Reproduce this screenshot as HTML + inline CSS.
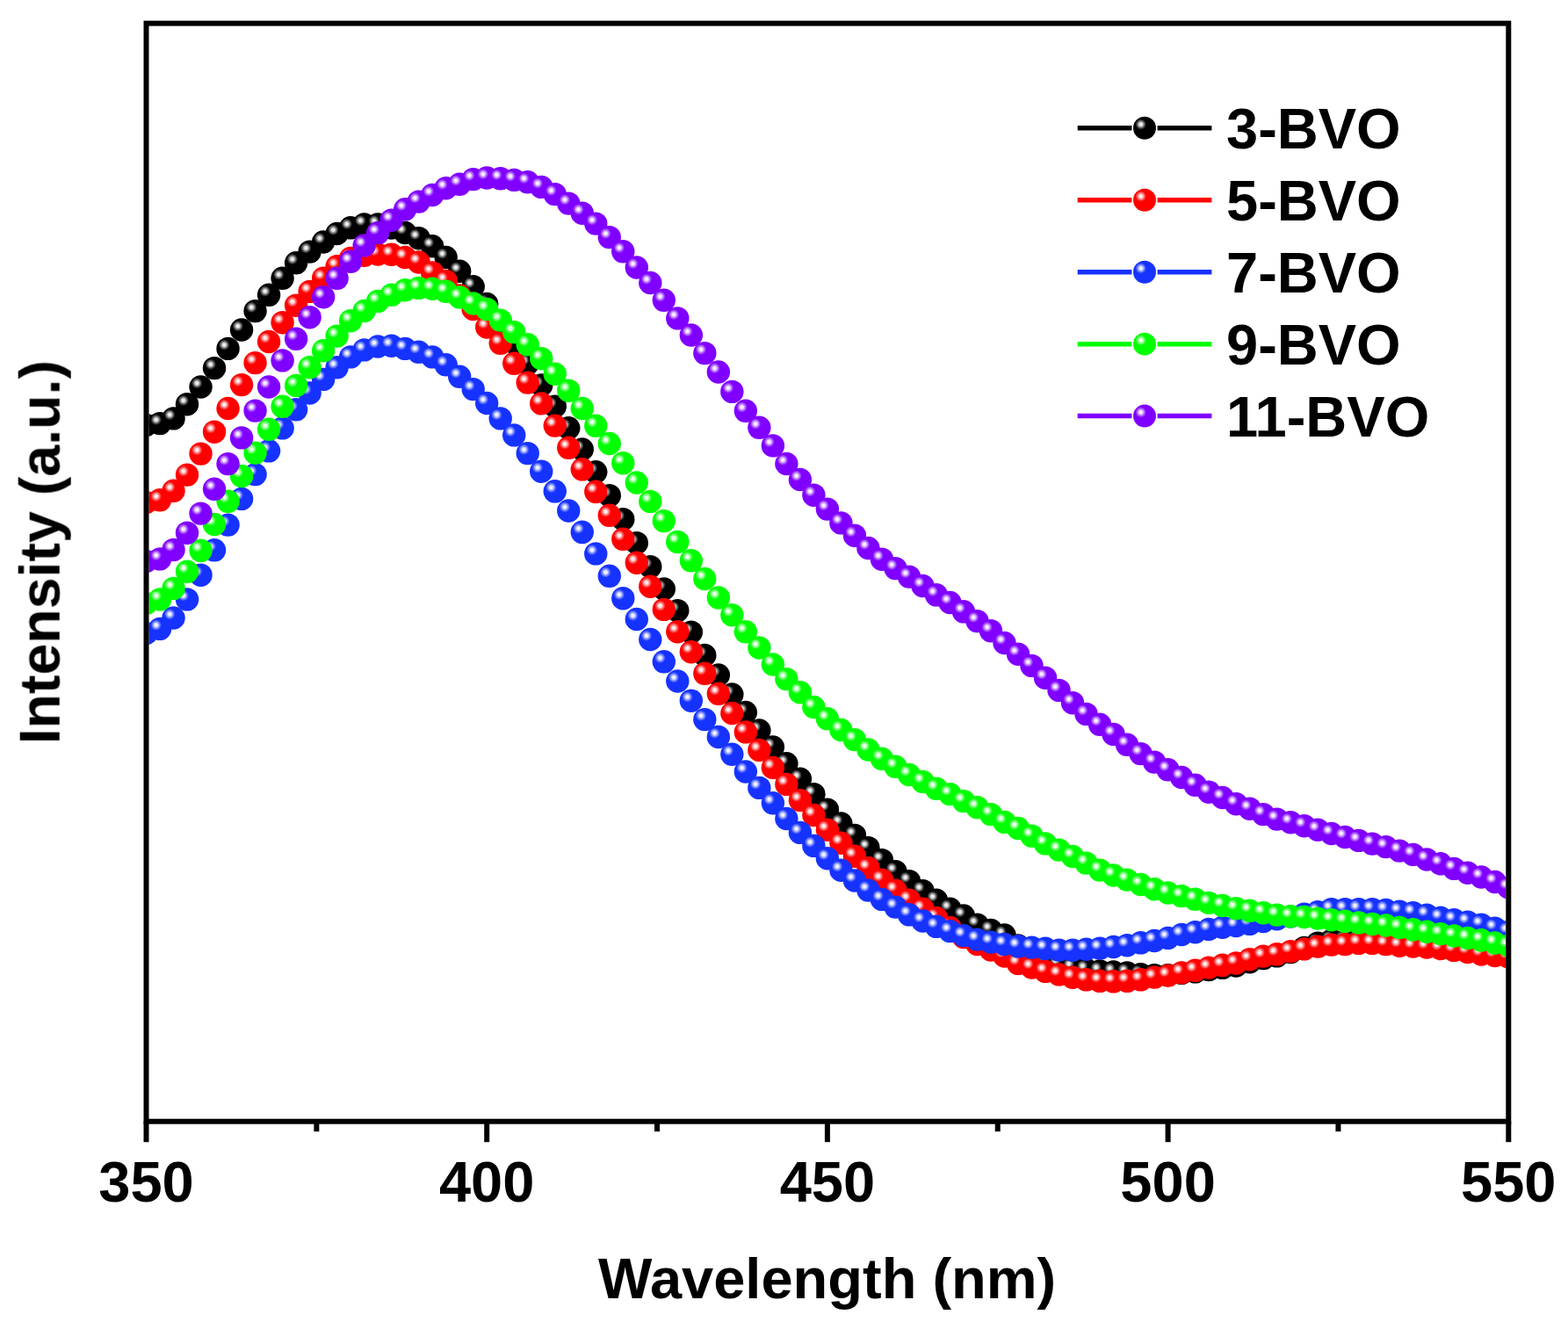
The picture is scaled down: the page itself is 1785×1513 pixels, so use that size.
<!DOCTYPE html>
<html><head><meta charset="utf-8"><title>PL spectra</title>
<style>html,body{margin:0;padding:0;background:#fff;overflow:hidden;width:1785px;height:1513px;}svg{display:block;}</style>
</head><body>
<svg width="1785" height="1513" viewBox="0 0 1785 1513">
<defs><radialGradient id="g_black" cx="0.337" cy="0.337" r="0.235" fx="0.337" fy="0.337">
<stop offset="0" stop-color="#ededed"/><stop offset="0.25" stop-color="#ededed"/><stop offset="0.6" stop-color="#767676"/><stop offset="1" stop-color="#000000"/></radialGradient><radialGradient id="g_red" cx="0.337" cy="0.337" r="0.235" fx="0.337" fy="0.337">
<stop offset="0" stop-color="#ffeded"/><stop offset="0.25" stop-color="#ffeded"/><stop offset="0.6" stop-color="#ff7676"/><stop offset="1" stop-color="#ff0000"/></radialGradient><radialGradient id="g_blue" cx="0.337" cy="0.337" r="0.235" fx="0.337" fy="0.337">
<stop offset="0" stop-color="#eff1ff"/><stop offset="0.25" stop-color="#eff1ff"/><stop offset="0.6" stop-color="#8292ff"/><stop offset="1" stop-color="#1432ff"/></radialGradient><radialGradient id="g_green" cx="0.337" cy="0.337" r="0.235" fx="0.337" fy="0.337">
<stop offset="0" stop-color="#edffed"/><stop offset="0.25" stop-color="#edffed"/><stop offset="0.6" stop-color="#76ff76"/><stop offset="1" stop-color="#00ff00"/></radialGradient><radialGradient id="g_purple" cx="0.337" cy="0.337" r="0.235" fx="0.337" fy="0.337">
<stop offset="0" stop-color="#f6edff"/><stop offset="0.25" stop-color="#f6edff"/><stop offset="0.6" stop-color="#bb76ff"/><stop offset="1" stop-color="#8000ff"/></radialGradient>
<filter id="soft" filterUnits="userSpaceOnUse" x="0" y="0" width="1785" height="1513"><feGaussianBlur stdDeviation="0.55"/></filter>
<clipPath id="clip"><rect x="169.5" y="29.6" width="1544.8" height="1244.1000000000001"/></clipPath></defs>
<rect width="1785" height="1513" fill="#fff"/>
<g filter="url(#soft)">
<g clip-path="url(#clip)">
<circle cx="166.50" cy="484.00" r="13.2" fill="url(#g_black)"/>
<circle cx="182.01" cy="482.10" r="13.2" fill="url(#g_black)"/>
<circle cx="197.52" cy="476.40" r="13.2" fill="url(#g_black)"/>
<circle cx="213.02" cy="460.20" r="13.2" fill="url(#g_black)"/>
<circle cx="228.53" cy="440.50" r="13.2" fill="url(#g_black)"/>
<circle cx="244.04" cy="419.10" r="13.2" fill="url(#g_black)"/>
<circle cx="259.55" cy="396.90" r="13.2" fill="url(#g_black)"/>
<circle cx="275.06" cy="375.50" r="13.2" fill="url(#g_black)"/>
<circle cx="290.56" cy="354.10" r="13.2" fill="url(#g_black)"/>
<circle cx="306.07" cy="335.80" r="13.2" fill="url(#g_black)"/>
<circle cx="321.58" cy="316.80" r="13.2" fill="url(#g_black)"/>
<circle cx="337.09" cy="299.30" r="13.2" fill="url(#g_black)"/>
<circle cx="352.60" cy="286.60" r="13.2" fill="url(#g_black)"/>
<circle cx="368.10" cy="275.50" r="13.2" fill="url(#g_black)"/>
<circle cx="383.61" cy="266.00" r="13.2" fill="url(#g_black)"/>
<circle cx="399.12" cy="259.30" r="13.2" fill="url(#g_black)"/>
<circle cx="414.63" cy="255.40" r="13.2" fill="url(#g_black)"/>
<circle cx="430.14" cy="255.50" r="13.2" fill="url(#g_black)"/>
<circle cx="445.64" cy="259.50" r="13.2" fill="url(#g_black)"/>
<circle cx="461.15" cy="265.00" r="13.2" fill="url(#g_black)"/>
<circle cx="476.66" cy="271.20" r="13.2" fill="url(#g_black)"/>
<circle cx="492.17" cy="280.30" r="13.2" fill="url(#g_black)"/>
<circle cx="507.68" cy="293.00" r="13.2" fill="url(#g_black)"/>
<circle cx="523.18" cy="308.80" r="13.2" fill="url(#g_black)"/>
<circle cx="538.69" cy="326.30" r="13.2" fill="url(#g_black)"/>
<circle cx="554.20" cy="346.00" r="13.2" fill="url(#g_black)"/>
<circle cx="569.71" cy="367.50" r="13.2" fill="url(#g_black)"/>
<circle cx="585.22" cy="390.00" r="13.2" fill="url(#g_black)"/>
<circle cx="600.72" cy="414.00" r="13.2" fill="url(#g_black)"/>
<circle cx="616.23" cy="438.50" r="13.2" fill="url(#g_black)"/>
<circle cx="631.74" cy="462.70" r="13.2" fill="url(#g_black)"/>
<circle cx="647.25" cy="487.30" r="13.2" fill="url(#g_black)"/>
<circle cx="662.76" cy="511.50" r="13.2" fill="url(#g_black)"/>
<circle cx="678.26" cy="537.30" r="13.2" fill="url(#g_black)"/>
<circle cx="693.77" cy="564.20" r="13.2" fill="url(#g_black)"/>
<circle cx="709.28" cy="591.20" r="13.2" fill="url(#g_black)"/>
<circle cx="724.79" cy="618.20" r="13.2" fill="url(#g_black)"/>
<circle cx="740.30" cy="645.10" r="13.2" fill="url(#g_black)"/>
<circle cx="755.80" cy="670.50" r="13.2" fill="url(#g_black)"/>
<circle cx="771.31" cy="695.10" r="13.2" fill="url(#g_black)"/>
<circle cx="786.82" cy="719.70" r="13.2" fill="url(#g_black)"/>
<circle cx="802.33" cy="746.00" r="13.2" fill="url(#g_black)"/>
<circle cx="817.84" cy="768.50" r="13.2" fill="url(#g_black)"/>
<circle cx="833.34" cy="790.50" r="13.2" fill="url(#g_black)"/>
<circle cx="848.85" cy="811.00" r="13.2" fill="url(#g_black)"/>
<circle cx="864.36" cy="831.50" r="13.2" fill="url(#g_black)"/>
<circle cx="879.87" cy="850.50" r="13.2" fill="url(#g_black)"/>
<circle cx="895.38" cy="869.30" r="13.2" fill="url(#g_black)"/>
<circle cx="910.88" cy="886.80" r="13.2" fill="url(#g_black)"/>
<circle cx="926.39" cy="904.20" r="13.2" fill="url(#g_black)"/>
<circle cx="941.90" cy="921.70" r="13.2" fill="url(#g_black)"/>
<circle cx="957.41" cy="937.50" r="13.2" fill="url(#g_black)"/>
<circle cx="972.92" cy="950.90" r="13.2" fill="url(#g_black)"/>
<circle cx="988.42" cy="965.20" r="13.2" fill="url(#g_black)"/>
<circle cx="1003.93" cy="979.20" r="13.2" fill="url(#g_black)"/>
<circle cx="1019.44" cy="992.20" r="13.2" fill="url(#g_black)"/>
<circle cx="1034.95" cy="1003.20" r="13.2" fill="url(#g_black)"/>
<circle cx="1050.46" cy="1014.20" r="13.2" fill="url(#g_black)"/>
<circle cx="1065.96" cy="1024.80" r="13.2" fill="url(#g_black)"/>
<circle cx="1081.47" cy="1034.80" r="13.2" fill="url(#g_black)"/>
<circle cx="1096.98" cy="1042.50" r="13.2" fill="url(#g_black)"/>
<circle cx="1112.49" cy="1052.60" r="13.2" fill="url(#g_black)"/>
<circle cx="1128.00" cy="1058.90" r="13.2" fill="url(#g_black)"/>
<circle cx="1143.50" cy="1064.50" r="13.2" fill="url(#g_black)"/>
<circle cx="1159.01" cy="1076.57" r="13.2" fill="url(#g_black)"/>
<circle cx="1174.52" cy="1083.77" r="13.2" fill="url(#g_black)"/>
<circle cx="1190.03" cy="1093.00" r="13.2" fill="url(#g_black)"/>
<circle cx="1205.54" cy="1098.00" r="13.2" fill="url(#g_black)"/>
<circle cx="1221.04" cy="1101.50" r="13.2" fill="url(#g_black)"/>
<circle cx="1236.55" cy="1103.80" r="13.2" fill="url(#g_black)"/>
<circle cx="1252.06" cy="1105.50" r="13.2" fill="url(#g_black)"/>
<circle cx="1267.57" cy="1106.50" r="13.2" fill="url(#g_black)"/>
<circle cx="1283.08" cy="1107.50" r="13.2" fill="url(#g_black)"/>
<circle cx="1298.58" cy="1109.30" r="13.2" fill="url(#g_black)"/>
<circle cx="1314.09" cy="1110.10" r="13.2" fill="url(#g_black)"/>
<circle cx="1329.60" cy="1110.10" r="13.2" fill="url(#g_black)"/>
<circle cx="1345.11" cy="1107.90" r="13.2" fill="url(#g_black)"/>
<circle cx="1360.62" cy="1106.30" r="13.2" fill="url(#g_black)"/>
<circle cx="1376.12" cy="1104.10" r="13.2" fill="url(#g_black)"/>
<circle cx="1391.63" cy="1101.80" r="13.2" fill="url(#g_black)"/>
<circle cx="1407.14" cy="1099.50" r="13.2" fill="url(#g_black)"/>
<circle cx="1422.65" cy="1095.20" r="13.2" fill="url(#g_black)"/>
<circle cx="1438.16" cy="1091.10" r="13.2" fill="url(#g_black)"/>
<circle cx="1453.66" cy="1088.30" r="13.2" fill="url(#g_black)"/>
<circle cx="1469.17" cy="1084.10" r="13.2" fill="url(#g_black)"/>
<circle cx="1484.68" cy="1078.90" r="13.2" fill="url(#g_black)"/>
<circle cx="1500.19" cy="1073.60" r="13.2" fill="url(#g_black)"/>
<circle cx="1515.70" cy="1070.60" r="13.2" fill="url(#g_black)"/>
<circle cx="1531.20" cy="1070.60" r="13.2" fill="url(#g_black)"/>
<circle cx="1546.71" cy="1069.80" r="13.2" fill="url(#g_black)"/>
<circle cx="1562.22" cy="1070.80" r="13.2" fill="url(#g_black)"/>
<circle cx="1577.73" cy="1073.10" r="13.2" fill="url(#g_black)"/>
<circle cx="1593.24" cy="1075.20" r="13.2" fill="url(#g_black)"/>
<circle cx="1608.74" cy="1076.50" r="13.2" fill="url(#g_black)"/>
<circle cx="1624.25" cy="1077.50" r="13.2" fill="url(#g_black)"/>
<circle cx="1639.76" cy="1079.00" r="13.2" fill="url(#g_black)"/>
<circle cx="1655.27" cy="1080.80" r="13.2" fill="url(#g_black)"/>
<circle cx="1670.78" cy="1083.00" r="13.2" fill="url(#g_black)"/>
<circle cx="1686.28" cy="1085.50" r="13.2" fill="url(#g_black)"/>
<circle cx="1701.79" cy="1087.00" r="13.2" fill="url(#g_black)"/>
<circle cx="1717.30" cy="1088.70" r="13.2" fill="url(#g_black)"/>
<circle cx="166.50" cy="572.00" r="13.2" fill="url(#g_red)"/>
<circle cx="182.01" cy="569.30" r="13.2" fill="url(#g_red)"/>
<circle cx="197.52" cy="558.80" r="13.2" fill="url(#g_red)"/>
<circle cx="213.02" cy="540.60" r="13.2" fill="url(#g_red)"/>
<circle cx="228.53" cy="516.60" r="13.2" fill="url(#g_red)"/>
<circle cx="244.04" cy="491.70" r="13.2" fill="url(#g_red)"/>
<circle cx="259.55" cy="465.00" r="13.2" fill="url(#g_red)"/>
<circle cx="275.06" cy="438.10" r="13.2" fill="url(#g_red)"/>
<circle cx="290.56" cy="413.10" r="13.2" fill="url(#g_red)"/>
<circle cx="306.07" cy="389.00" r="13.2" fill="url(#g_red)"/>
<circle cx="321.58" cy="367.20" r="13.2" fill="url(#g_red)"/>
<circle cx="337.09" cy="347.70" r="13.2" fill="url(#g_red)"/>
<circle cx="352.60" cy="331.90" r="13.2" fill="url(#g_red)"/>
<circle cx="368.10" cy="316.80" r="13.2" fill="url(#g_red)"/>
<circle cx="383.61" cy="303.30" r="13.2" fill="url(#g_red)"/>
<circle cx="399.12" cy="294.00" r="13.2" fill="url(#g_red)"/>
<circle cx="414.63" cy="290.80" r="13.2" fill="url(#g_red)"/>
<circle cx="430.14" cy="289.50" r="13.2" fill="url(#g_red)"/>
<circle cx="445.64" cy="289.80" r="13.2" fill="url(#g_red)"/>
<circle cx="461.15" cy="293.00" r="13.2" fill="url(#g_red)"/>
<circle cx="476.66" cy="298.50" r="13.2" fill="url(#g_red)"/>
<circle cx="492.17" cy="310.40" r="13.2" fill="url(#g_red)"/>
<circle cx="507.68" cy="319.90" r="13.2" fill="url(#g_red)"/>
<circle cx="523.18" cy="336.50" r="13.2" fill="url(#g_red)"/>
<circle cx="538.69" cy="352.00" r="13.2" fill="url(#g_red)"/>
<circle cx="554.20" cy="372.50" r="13.2" fill="url(#g_red)"/>
<circle cx="569.71" cy="390.80" r="13.2" fill="url(#g_red)"/>
<circle cx="585.22" cy="413.80" r="13.2" fill="url(#g_red)"/>
<circle cx="600.72" cy="435.60" r="13.2" fill="url(#g_red)"/>
<circle cx="616.23" cy="459.40" r="13.2" fill="url(#g_red)"/>
<circle cx="631.74" cy="484.60" r="13.2" fill="url(#g_red)"/>
<circle cx="647.25" cy="509.80" r="13.2" fill="url(#g_red)"/>
<circle cx="662.76" cy="534.30" r="13.2" fill="url(#g_red)"/>
<circle cx="678.26" cy="559.80" r="13.2" fill="url(#g_red)"/>
<circle cx="693.77" cy="586.80" r="13.2" fill="url(#g_red)"/>
<circle cx="709.28" cy="613.80" r="13.2" fill="url(#g_red)"/>
<circle cx="724.79" cy="640.70" r="13.2" fill="url(#g_red)"/>
<circle cx="740.30" cy="667.70" r="13.2" fill="url(#g_red)"/>
<circle cx="755.80" cy="693.90" r="13.2" fill="url(#g_red)"/>
<circle cx="771.31" cy="719.20" r="13.2" fill="url(#g_red)"/>
<circle cx="786.82" cy="742.20" r="13.2" fill="url(#g_red)"/>
<circle cx="802.33" cy="766.80" r="13.2" fill="url(#g_red)"/>
<circle cx="817.84" cy="789.80" r="13.2" fill="url(#g_red)"/>
<circle cx="833.34" cy="812.00" r="13.2" fill="url(#g_red)"/>
<circle cx="848.85" cy="833.40" r="13.2" fill="url(#g_red)"/>
<circle cx="864.36" cy="854.00" r="13.2" fill="url(#g_red)"/>
<circle cx="879.87" cy="873.90" r="13.2" fill="url(#g_red)"/>
<circle cx="895.38" cy="892.90" r="13.2" fill="url(#g_red)"/>
<circle cx="910.88" cy="911.10" r="13.2" fill="url(#g_red)"/>
<circle cx="926.39" cy="928.00" r="13.2" fill="url(#g_red)"/>
<circle cx="941.90" cy="944.70" r="13.2" fill="url(#g_red)"/>
<circle cx="957.41" cy="959.80" r="13.2" fill="url(#g_red)"/>
<circle cx="972.92" cy="974.70" r="13.2" fill="url(#g_red)"/>
<circle cx="988.42" cy="988.20" r="13.2" fill="url(#g_red)"/>
<circle cx="1003.93" cy="1001.70" r="13.2" fill="url(#g_red)"/>
<circle cx="1019.44" cy="1013.60" r="13.2" fill="url(#g_red)"/>
<circle cx="1034.95" cy="1024.60" r="13.2" fill="url(#g_red)"/>
<circle cx="1050.46" cy="1034.80" r="13.2" fill="url(#g_red)"/>
<circle cx="1065.96" cy="1045.00" r="13.2" fill="url(#g_red)"/>
<circle cx="1081.47" cy="1056.00" r="13.2" fill="url(#g_red)"/>
<circle cx="1096.98" cy="1067.00" r="13.2" fill="url(#g_red)"/>
<circle cx="1112.49" cy="1075.00" r="13.2" fill="url(#g_red)"/>
<circle cx="1128.00" cy="1081.50" r="13.2" fill="url(#g_red)"/>
<circle cx="1143.50" cy="1088.50" r="13.2" fill="url(#g_red)"/>
<circle cx="1159.01" cy="1096.90" r="13.2" fill="url(#g_red)"/>
<circle cx="1174.52" cy="1101.50" r="13.2" fill="url(#g_red)"/>
<circle cx="1190.03" cy="1105.90" r="13.2" fill="url(#g_red)"/>
<circle cx="1205.54" cy="1109.40" r="13.2" fill="url(#g_red)"/>
<circle cx="1221.04" cy="1112.70" r="13.2" fill="url(#g_red)"/>
<circle cx="1236.55" cy="1115.30" r="13.2" fill="url(#g_red)"/>
<circle cx="1252.06" cy="1116.80" r="13.2" fill="url(#g_red)"/>
<circle cx="1267.57" cy="1117.30" r="13.2" fill="url(#g_red)"/>
<circle cx="1283.08" cy="1116.80" r="13.2" fill="url(#g_red)"/>
<circle cx="1298.58" cy="1115.30" r="13.2" fill="url(#g_red)"/>
<circle cx="1314.09" cy="1112.60" r="13.2" fill="url(#g_red)"/>
<circle cx="1329.60" cy="1110.60" r="13.2" fill="url(#g_red)"/>
<circle cx="1345.11" cy="1107.40" r="13.2" fill="url(#g_red)"/>
<circle cx="1360.62" cy="1104.80" r="13.2" fill="url(#g_red)"/>
<circle cx="1376.12" cy="1101.60" r="13.2" fill="url(#g_red)"/>
<circle cx="1391.63" cy="1098.80" r="13.2" fill="url(#g_red)"/>
<circle cx="1407.14" cy="1096.50" r="13.2" fill="url(#g_red)"/>
<circle cx="1422.65" cy="1092.20" r="13.2" fill="url(#g_red)"/>
<circle cx="1438.16" cy="1088.60" r="13.2" fill="url(#g_red)"/>
<circle cx="1453.66" cy="1086.30" r="13.2" fill="url(#g_red)"/>
<circle cx="1469.17" cy="1083.10" r="13.2" fill="url(#g_red)"/>
<circle cx="1484.68" cy="1080.40" r="13.2" fill="url(#g_red)"/>
<circle cx="1500.19" cy="1077.60" r="13.2" fill="url(#g_red)"/>
<circle cx="1515.70" cy="1075.60" r="13.2" fill="url(#g_red)"/>
<circle cx="1531.20" cy="1075.10" r="13.2" fill="url(#g_red)"/>
<circle cx="1546.71" cy="1073.80" r="13.2" fill="url(#g_red)"/>
<circle cx="1562.22" cy="1073.80" r="13.2" fill="url(#g_red)"/>
<circle cx="1577.73" cy="1075.10" r="13.2" fill="url(#g_red)"/>
<circle cx="1593.24" cy="1076.70" r="13.2" fill="url(#g_red)"/>
<circle cx="1608.74" cy="1077.50" r="13.2" fill="url(#g_red)"/>
<circle cx="1624.25" cy="1078.50" r="13.2" fill="url(#g_red)"/>
<circle cx="1639.76" cy="1080.00" r="13.2" fill="url(#g_red)"/>
<circle cx="1655.27" cy="1081.80" r="13.2" fill="url(#g_red)"/>
<circle cx="1670.78" cy="1084.00" r="13.2" fill="url(#g_red)"/>
<circle cx="1686.28" cy="1086.50" r="13.2" fill="url(#g_red)"/>
<circle cx="1701.79" cy="1088.00" r="13.2" fill="url(#g_red)"/>
<circle cx="1717.30" cy="1089.70" r="13.2" fill="url(#g_red)"/>
<circle cx="166.50" cy="721.00" r="13.2" fill="url(#g_blue)"/>
<circle cx="182.01" cy="715.90" r="13.2" fill="url(#g_blue)"/>
<circle cx="197.52" cy="703.50" r="13.2" fill="url(#g_blue)"/>
<circle cx="213.02" cy="682.40" r="13.2" fill="url(#g_blue)"/>
<circle cx="228.53" cy="654.70" r="13.2" fill="url(#g_blue)"/>
<circle cx="244.04" cy="626.30" r="13.2" fill="url(#g_blue)"/>
<circle cx="259.55" cy="597.60" r="13.2" fill="url(#g_blue)"/>
<circle cx="275.06" cy="567.90" r="13.2" fill="url(#g_blue)"/>
<circle cx="290.56" cy="540.10" r="13.2" fill="url(#g_blue)"/>
<circle cx="306.07" cy="513.30" r="13.2" fill="url(#g_blue)"/>
<circle cx="321.58" cy="487.40" r="13.2" fill="url(#g_blue)"/>
<circle cx="337.09" cy="466.30" r="13.2" fill="url(#g_blue)"/>
<circle cx="352.60" cy="447.50" r="13.2" fill="url(#g_blue)"/>
<circle cx="368.10" cy="431.90" r="13.2" fill="url(#g_blue)"/>
<circle cx="383.61" cy="418.30" r="13.2" fill="url(#g_blue)"/>
<circle cx="399.12" cy="406.40" r="13.2" fill="url(#g_blue)"/>
<circle cx="414.63" cy="398.40" r="13.2" fill="url(#g_blue)"/>
<circle cx="430.14" cy="394.50" r="13.2" fill="url(#g_blue)"/>
<circle cx="445.64" cy="393.70" r="13.2" fill="url(#g_blue)"/>
<circle cx="461.15" cy="396.90" r="13.2" fill="url(#g_blue)"/>
<circle cx="476.66" cy="400.80" r="13.2" fill="url(#g_blue)"/>
<circle cx="492.17" cy="406.40" r="13.2" fill="url(#g_blue)"/>
<circle cx="507.68" cy="415.30" r="13.2" fill="url(#g_blue)"/>
<circle cx="523.18" cy="428.80" r="13.2" fill="url(#g_blue)"/>
<circle cx="538.69" cy="443.10" r="13.2" fill="url(#g_blue)"/>
<circle cx="554.20" cy="459.00" r="13.2" fill="url(#g_blue)"/>
<circle cx="569.71" cy="476.40" r="13.2" fill="url(#g_blue)"/>
<circle cx="585.22" cy="495.40" r="13.2" fill="url(#g_blue)"/>
<circle cx="600.72" cy="516.10" r="13.2" fill="url(#g_blue)"/>
<circle cx="616.23" cy="536.70" r="13.2" fill="url(#g_blue)"/>
<circle cx="631.74" cy="559.30" r="13.2" fill="url(#g_blue)"/>
<circle cx="647.25" cy="581.50" r="13.2" fill="url(#g_blue)"/>
<circle cx="662.76" cy="605.80" r="13.2" fill="url(#g_blue)"/>
<circle cx="678.26" cy="630.40" r="13.2" fill="url(#g_blue)"/>
<circle cx="693.77" cy="655.80" r="13.2" fill="url(#g_blue)"/>
<circle cx="709.28" cy="681.20" r="13.2" fill="url(#g_blue)"/>
<circle cx="724.79" cy="705.00" r="13.2" fill="url(#g_blue)"/>
<circle cx="740.30" cy="728.00" r="13.2" fill="url(#g_blue)"/>
<circle cx="755.80" cy="753.30" r="13.2" fill="url(#g_blue)"/>
<circle cx="771.31" cy="775.50" r="13.2" fill="url(#g_blue)"/>
<circle cx="786.82" cy="797.70" r="13.2" fill="url(#g_blue)"/>
<circle cx="802.33" cy="819.10" r="13.2" fill="url(#g_blue)"/>
<circle cx="817.84" cy="839.00" r="13.2" fill="url(#g_blue)"/>
<circle cx="833.34" cy="858.80" r="13.2" fill="url(#g_blue)"/>
<circle cx="848.85" cy="878.50" r="13.2" fill="url(#g_blue)"/>
<circle cx="864.36" cy="896.90" r="13.2" fill="url(#g_blue)"/>
<circle cx="879.87" cy="914.30" r="13.2" fill="url(#g_blue)"/>
<circle cx="895.38" cy="932.00" r="13.2" fill="url(#g_blue)"/>
<circle cx="910.88" cy="947.90" r="13.2" fill="url(#g_blue)"/>
<circle cx="926.39" cy="962.90" r="13.2" fill="url(#g_blue)"/>
<circle cx="941.90" cy="977.20" r="13.2" fill="url(#g_blue)"/>
<circle cx="957.41" cy="990.70" r="13.2" fill="url(#g_blue)"/>
<circle cx="972.92" cy="1002.50" r="13.2" fill="url(#g_blue)"/>
<circle cx="988.42" cy="1013.60" r="13.2" fill="url(#g_blue)"/>
<circle cx="1003.93" cy="1023.90" r="13.2" fill="url(#g_blue)"/>
<circle cx="1019.44" cy="1032.60" r="13.2" fill="url(#g_blue)"/>
<circle cx="1034.95" cy="1041.30" r="13.2" fill="url(#g_blue)"/>
<circle cx="1050.46" cy="1048.50" r="13.2" fill="url(#g_blue)"/>
<circle cx="1065.96" cy="1054.80" r="13.2" fill="url(#g_blue)"/>
<circle cx="1081.47" cy="1060.10" r="13.2" fill="url(#g_blue)"/>
<circle cx="1096.98" cy="1065.10" r="13.2" fill="url(#g_blue)"/>
<circle cx="1112.49" cy="1069.60" r="13.2" fill="url(#g_blue)"/>
<circle cx="1128.00" cy="1072.60" r="13.2" fill="url(#g_blue)"/>
<circle cx="1143.50" cy="1075.00" r="13.2" fill="url(#g_blue)"/>
<circle cx="1159.01" cy="1077.30" r="13.2" fill="url(#g_blue)"/>
<circle cx="1174.52" cy="1078.60" r="13.2" fill="url(#g_blue)"/>
<circle cx="1190.03" cy="1079.80" r="13.2" fill="url(#g_blue)"/>
<circle cx="1205.54" cy="1081.60" r="13.2" fill="url(#g_blue)"/>
<circle cx="1221.04" cy="1081.70" r="13.2" fill="url(#g_blue)"/>
<circle cx="1236.55" cy="1080.70" r="13.2" fill="url(#g_blue)"/>
<circle cx="1252.06" cy="1079.60" r="13.2" fill="url(#g_blue)"/>
<circle cx="1267.57" cy="1078.00" r="13.2" fill="url(#g_blue)"/>
<circle cx="1283.08" cy="1076.20" r="13.2" fill="url(#g_blue)"/>
<circle cx="1298.58" cy="1073.30" r="13.2" fill="url(#g_blue)"/>
<circle cx="1314.09" cy="1071.00" r="13.2" fill="url(#g_blue)"/>
<circle cx="1329.60" cy="1067.90" r="13.2" fill="url(#g_blue)"/>
<circle cx="1345.11" cy="1064.00" r="13.2" fill="url(#g_blue)"/>
<circle cx="1360.62" cy="1061.20" r="13.2" fill="url(#g_blue)"/>
<circle cx="1376.12" cy="1058.00" r="13.2" fill="url(#g_blue)"/>
<circle cx="1391.63" cy="1055.70" r="13.2" fill="url(#g_blue)"/>
<circle cx="1407.14" cy="1054.00" r="13.2" fill="url(#g_blue)"/>
<circle cx="1422.65" cy="1051.80" r="13.2" fill="url(#g_blue)"/>
<circle cx="1438.16" cy="1049.00" r="13.2" fill="url(#g_blue)"/>
<circle cx="1453.66" cy="1046.20" r="13.2" fill="url(#g_blue)"/>
<circle cx="1469.17" cy="1043.40" r="13.2" fill="url(#g_blue)"/>
<circle cx="1484.68" cy="1040.80" r="13.2" fill="url(#g_blue)"/>
<circle cx="1500.19" cy="1038.30" r="13.2" fill="url(#g_blue)"/>
<circle cx="1515.70" cy="1035.20" r="13.2" fill="url(#g_blue)"/>
<circle cx="1531.20" cy="1035.20" r="13.2" fill="url(#g_blue)"/>
<circle cx="1546.71" cy="1035.20" r="13.2" fill="url(#g_blue)"/>
<circle cx="1562.22" cy="1035.20" r="13.2" fill="url(#g_blue)"/>
<circle cx="1577.73" cy="1036.00" r="13.2" fill="url(#g_blue)"/>
<circle cx="1593.24" cy="1037.60" r="13.2" fill="url(#g_blue)"/>
<circle cx="1608.74" cy="1039.20" r="13.2" fill="url(#g_blue)"/>
<circle cx="1624.25" cy="1041.60" r="13.2" fill="url(#g_blue)"/>
<circle cx="1639.76" cy="1044.80" r="13.2" fill="url(#g_blue)"/>
<circle cx="1655.27" cy="1047.20" r="13.2" fill="url(#g_blue)"/>
<circle cx="1670.78" cy="1049.60" r="13.2" fill="url(#g_blue)"/>
<circle cx="1686.28" cy="1052.70" r="13.2" fill="url(#g_blue)"/>
<circle cx="1701.79" cy="1056.70" r="13.2" fill="url(#g_blue)"/>
<circle cx="1717.30" cy="1060.70" r="13.2" fill="url(#g_blue)"/>
<circle cx="166.50" cy="687.00" r="13.2" fill="url(#g_green)"/>
<circle cx="182.01" cy="682.40" r="13.2" fill="url(#g_green)"/>
<circle cx="197.52" cy="669.90" r="13.2" fill="url(#g_green)"/>
<circle cx="213.02" cy="650.80" r="13.2" fill="url(#g_green)"/>
<circle cx="228.53" cy="626.80" r="13.2" fill="url(#g_green)"/>
<circle cx="244.04" cy="597.00" r="13.2" fill="url(#g_green)"/>
<circle cx="259.55" cy="570.80" r="13.2" fill="url(#g_green)"/>
<circle cx="275.06" cy="542.00" r="13.2" fill="url(#g_green)"/>
<circle cx="290.56" cy="515.60" r="13.2" fill="url(#g_green)"/>
<circle cx="306.07" cy="488.80" r="13.2" fill="url(#g_green)"/>
<circle cx="321.58" cy="462.80" r="13.2" fill="url(#g_green)"/>
<circle cx="337.09" cy="438.90" r="13.2" fill="url(#g_green)"/>
<circle cx="352.60" cy="418.20" r="13.2" fill="url(#g_green)"/>
<circle cx="368.10" cy="399.30" r="13.2" fill="url(#g_green)"/>
<circle cx="383.61" cy="382.60" r="13.2" fill="url(#g_green)"/>
<circle cx="399.12" cy="365.20" r="13.2" fill="url(#g_green)"/>
<circle cx="414.63" cy="354.00" r="13.2" fill="url(#g_green)"/>
<circle cx="430.14" cy="342.90" r="13.2" fill="url(#g_green)"/>
<circle cx="445.64" cy="335.80" r="13.2" fill="url(#g_green)"/>
<circle cx="461.15" cy="330.20" r="13.2" fill="url(#g_green)"/>
<circle cx="476.66" cy="327.90" r="13.2" fill="url(#g_green)"/>
<circle cx="492.17" cy="328.70" r="13.2" fill="url(#g_green)"/>
<circle cx="507.68" cy="331.80" r="13.2" fill="url(#g_green)"/>
<circle cx="523.18" cy="338.40" r="13.2" fill="url(#g_green)"/>
<circle cx="538.69" cy="345.50" r="13.2" fill="url(#g_green)"/>
<circle cx="554.20" cy="351.90" r="13.2" fill="url(#g_green)"/>
<circle cx="569.71" cy="364.60" r="13.2" fill="url(#g_green)"/>
<circle cx="585.22" cy="378.10" r="13.2" fill="url(#g_green)"/>
<circle cx="600.72" cy="392.30" r="13.2" fill="url(#g_green)"/>
<circle cx="616.23" cy="408.20" r="13.2" fill="url(#g_green)"/>
<circle cx="631.74" cy="425.70" r="13.2" fill="url(#g_green)"/>
<circle cx="647.25" cy="444.70" r="13.2" fill="url(#g_green)"/>
<circle cx="662.76" cy="465.00" r="13.2" fill="url(#g_green)"/>
<circle cx="678.26" cy="484.80" r="13.2" fill="url(#g_green)"/>
<circle cx="693.77" cy="505.00" r="13.2" fill="url(#g_green)"/>
<circle cx="709.28" cy="527.20" r="13.2" fill="url(#g_green)"/>
<circle cx="724.79" cy="549.50" r="13.2" fill="url(#g_green)"/>
<circle cx="740.30" cy="570.90" r="13.2" fill="url(#g_green)"/>
<circle cx="755.80" cy="593.10" r="13.2" fill="url(#g_green)"/>
<circle cx="771.31" cy="616.90" r="13.2" fill="url(#g_green)"/>
<circle cx="786.82" cy="638.30" r="13.2" fill="url(#g_green)"/>
<circle cx="802.33" cy="659.00" r="13.2" fill="url(#g_green)"/>
<circle cx="817.84" cy="680.40" r="13.2" fill="url(#g_green)"/>
<circle cx="833.34" cy="700.20" r="13.2" fill="url(#g_green)"/>
<circle cx="848.85" cy="719.30" r="13.2" fill="url(#g_green)"/>
<circle cx="864.36" cy="737.50" r="13.2" fill="url(#g_green)"/>
<circle cx="879.87" cy="756.50" r="13.2" fill="url(#g_green)"/>
<circle cx="895.38" cy="773.10" r="13.2" fill="url(#g_green)"/>
<circle cx="910.88" cy="788.20" r="13.2" fill="url(#g_green)"/>
<circle cx="926.39" cy="805.00" r="13.2" fill="url(#g_green)"/>
<circle cx="941.90" cy="818.30" r="13.2" fill="url(#g_green)"/>
<circle cx="957.41" cy="831.00" r="13.2" fill="url(#g_green)"/>
<circle cx="972.92" cy="842.10" r="13.2" fill="url(#g_green)"/>
<circle cx="988.42" cy="853.50" r="13.2" fill="url(#g_green)"/>
<circle cx="1003.93" cy="863.80" r="13.2" fill="url(#g_green)"/>
<circle cx="1019.44" cy="872.80" r="13.2" fill="url(#g_green)"/>
<circle cx="1034.95" cy="882.00" r="13.2" fill="url(#g_green)"/>
<circle cx="1050.46" cy="889.90" r="13.2" fill="url(#g_green)"/>
<circle cx="1065.96" cy="897.80" r="13.2" fill="url(#g_green)"/>
<circle cx="1081.47" cy="904.10" r="13.2" fill="url(#g_green)"/>
<circle cx="1096.98" cy="912.10" r="13.2" fill="url(#g_green)"/>
<circle cx="1112.49" cy="919.20" r="13.2" fill="url(#g_green)"/>
<circle cx="1128.00" cy="927.10" r="13.2" fill="url(#g_green)"/>
<circle cx="1143.50" cy="935.90" r="13.2" fill="url(#g_green)"/>
<circle cx="1159.01" cy="943.00" r="13.2" fill="url(#g_green)"/>
<circle cx="1174.52" cy="951.70" r="13.2" fill="url(#g_green)"/>
<circle cx="1190.03" cy="960.40" r="13.2" fill="url(#g_green)"/>
<circle cx="1205.54" cy="967.60" r="13.2" fill="url(#g_green)"/>
<circle cx="1221.04" cy="975.00" r="13.2" fill="url(#g_green)"/>
<circle cx="1236.55" cy="982.60" r="13.2" fill="url(#g_green)"/>
<circle cx="1252.06" cy="990.60" r="13.2" fill="url(#g_green)"/>
<circle cx="1267.57" cy="996.50" r="13.2" fill="url(#g_green)"/>
<circle cx="1283.08" cy="1001.60" r="13.2" fill="url(#g_green)"/>
<circle cx="1298.58" cy="1007.00" r="13.2" fill="url(#g_green)"/>
<circle cx="1314.09" cy="1012.20" r="13.2" fill="url(#g_green)"/>
<circle cx="1329.60" cy="1016.50" r="13.2" fill="url(#g_green)"/>
<circle cx="1345.11" cy="1020.10" r="13.2" fill="url(#g_green)"/>
<circle cx="1360.62" cy="1023.80" r="13.2" fill="url(#g_green)"/>
<circle cx="1376.12" cy="1027.90" r="13.2" fill="url(#g_green)"/>
<circle cx="1391.63" cy="1031.00" r="13.2" fill="url(#g_green)"/>
<circle cx="1407.14" cy="1034.20" r="13.2" fill="url(#g_green)"/>
<circle cx="1422.65" cy="1036.80" r="13.2" fill="url(#g_green)"/>
<circle cx="1438.16" cy="1039.20" r="13.2" fill="url(#g_green)"/>
<circle cx="1453.66" cy="1041.60" r="13.2" fill="url(#g_green)"/>
<circle cx="1469.17" cy="1043.20" r="13.2" fill="url(#g_green)"/>
<circle cx="1484.68" cy="1044.00" r="13.2" fill="url(#g_green)"/>
<circle cx="1500.19" cy="1045.60" r="13.2" fill="url(#g_green)"/>
<circle cx="1515.70" cy="1047.20" r="13.2" fill="url(#g_green)"/>
<circle cx="1531.20" cy="1048.80" r="13.2" fill="url(#g_green)"/>
<circle cx="1546.71" cy="1050.40" r="13.2" fill="url(#g_green)"/>
<circle cx="1562.22" cy="1052.00" r="13.2" fill="url(#g_green)"/>
<circle cx="1577.73" cy="1053.50" r="13.2" fill="url(#g_green)"/>
<circle cx="1593.24" cy="1055.90" r="13.2" fill="url(#g_green)"/>
<circle cx="1608.74" cy="1058.30" r="13.2" fill="url(#g_green)"/>
<circle cx="1624.25" cy="1060.70" r="13.2" fill="url(#g_green)"/>
<circle cx="1639.76" cy="1063.10" r="13.2" fill="url(#g_green)"/>
<circle cx="1655.27" cy="1065.50" r="13.2" fill="url(#g_green)"/>
<circle cx="1670.78" cy="1067.90" r="13.2" fill="url(#g_green)"/>
<circle cx="1686.28" cy="1070.30" r="13.2" fill="url(#g_green)"/>
<circle cx="1701.79" cy="1073.50" r="13.2" fill="url(#g_green)"/>
<circle cx="1717.30" cy="1076.70" r="13.2" fill="url(#g_green)"/>
<circle cx="166.50" cy="639.00" r="13.2" fill="url(#g_purple)"/>
<circle cx="182.01" cy="636.40" r="13.2" fill="url(#g_purple)"/>
<circle cx="197.52" cy="625.90" r="13.2" fill="url(#g_purple)"/>
<circle cx="213.02" cy="606.70" r="13.2" fill="url(#g_purple)"/>
<circle cx="228.53" cy="584.60" r="13.2" fill="url(#g_purple)"/>
<circle cx="244.04" cy="556.80" r="13.2" fill="url(#g_purple)"/>
<circle cx="259.55" cy="528.10" r="13.2" fill="url(#g_purple)"/>
<circle cx="275.06" cy="498.40" r="13.2" fill="url(#g_purple)"/>
<circle cx="290.56" cy="467.60" r="13.2" fill="url(#g_purple)"/>
<circle cx="306.07" cy="440.50" r="13.2" fill="url(#g_purple)"/>
<circle cx="321.58" cy="410.40" r="13.2" fill="url(#g_purple)"/>
<circle cx="337.09" cy="385.80" r="13.2" fill="url(#g_purple)"/>
<circle cx="352.60" cy="361.20" r="13.2" fill="url(#g_purple)"/>
<circle cx="368.10" cy="338.20" r="13.2" fill="url(#g_purple)"/>
<circle cx="383.61" cy="316.80" r="13.2" fill="url(#g_purple)"/>
<circle cx="399.12" cy="297.80" r="13.2" fill="url(#g_purple)"/>
<circle cx="414.63" cy="279.50" r="13.2" fill="url(#g_purple)"/>
<circle cx="430.14" cy="265.30" r="13.2" fill="url(#g_purple)"/>
<circle cx="445.64" cy="250.70" r="13.2" fill="url(#g_purple)"/>
<circle cx="461.15" cy="238.30" r="13.2" fill="url(#g_purple)"/>
<circle cx="476.66" cy="229.60" r="13.2" fill="url(#g_purple)"/>
<circle cx="492.17" cy="222.00" r="13.2" fill="url(#g_purple)"/>
<circle cx="507.68" cy="214.20" r="13.2" fill="url(#g_purple)"/>
<circle cx="523.18" cy="209.80" r="13.2" fill="url(#g_purple)"/>
<circle cx="538.69" cy="204.10" r="13.2" fill="url(#g_purple)"/>
<circle cx="554.20" cy="202.50" r="13.2" fill="url(#g_purple)"/>
<circle cx="569.71" cy="203.30" r="13.2" fill="url(#g_purple)"/>
<circle cx="585.22" cy="204.90" r="13.2" fill="url(#g_purple)"/>
<circle cx="600.72" cy="207.30" r="13.2" fill="url(#g_purple)"/>
<circle cx="616.23" cy="212.90" r="13.2" fill="url(#g_purple)"/>
<circle cx="631.74" cy="221.10" r="13.2" fill="url(#g_purple)"/>
<circle cx="647.25" cy="231.60" r="13.2" fill="url(#g_purple)"/>
<circle cx="662.76" cy="242.70" r="13.2" fill="url(#g_purple)"/>
<circle cx="678.26" cy="254.60" r="13.2" fill="url(#g_purple)"/>
<circle cx="693.77" cy="270.10" r="13.2" fill="url(#g_purple)"/>
<circle cx="709.28" cy="286.30" r="13.2" fill="url(#g_purple)"/>
<circle cx="724.79" cy="304.50" r="13.2" fill="url(#g_purple)"/>
<circle cx="740.30" cy="322.00" r="13.2" fill="url(#g_purple)"/>
<circle cx="755.80" cy="341.80" r="13.2" fill="url(#g_purple)"/>
<circle cx="771.31" cy="362.40" r="13.2" fill="url(#g_purple)"/>
<circle cx="786.82" cy="381.50" r="13.2" fill="url(#g_purple)"/>
<circle cx="802.33" cy="402.10" r="13.2" fill="url(#g_purple)"/>
<circle cx="817.84" cy="423.50" r="13.2" fill="url(#g_purple)"/>
<circle cx="833.34" cy="445.90" r="13.2" fill="url(#g_purple)"/>
<circle cx="848.85" cy="467.80" r="13.2" fill="url(#g_purple)"/>
<circle cx="864.36" cy="486.80" r="13.2" fill="url(#g_purple)"/>
<circle cx="879.87" cy="507.40" r="13.2" fill="url(#g_purple)"/>
<circle cx="895.38" cy="528.00" r="13.2" fill="url(#g_purple)"/>
<circle cx="910.88" cy="546.00" r="13.2" fill="url(#g_purple)"/>
<circle cx="926.39" cy="563.70" r="13.2" fill="url(#g_purple)"/>
<circle cx="941.90" cy="579.60" r="13.2" fill="url(#g_purple)"/>
<circle cx="957.41" cy="595.40" r="13.2" fill="url(#g_purple)"/>
<circle cx="972.92" cy="609.70" r="13.2" fill="url(#g_purple)"/>
<circle cx="988.42" cy="624.00" r="13.2" fill="url(#g_purple)"/>
<circle cx="1003.93" cy="636.70" r="13.2" fill="url(#g_purple)"/>
<circle cx="1019.44" cy="647.10" r="13.2" fill="url(#g_purple)"/>
<circle cx="1034.95" cy="656.60" r="13.2" fill="url(#g_purple)"/>
<circle cx="1050.46" cy="667.00" r="13.2" fill="url(#g_purple)"/>
<circle cx="1065.96" cy="677.30" r="13.2" fill="url(#g_purple)"/>
<circle cx="1081.47" cy="686.00" r="13.2" fill="url(#g_purple)"/>
<circle cx="1096.98" cy="696.30" r="13.2" fill="url(#g_purple)"/>
<circle cx="1112.49" cy="707.10" r="13.2" fill="url(#g_purple)"/>
<circle cx="1128.00" cy="718.20" r="13.2" fill="url(#g_purple)"/>
<circle cx="1143.50" cy="732.00" r="13.2" fill="url(#g_purple)"/>
<circle cx="1159.01" cy="744.70" r="13.2" fill="url(#g_purple)"/>
<circle cx="1174.52" cy="757.90" r="13.2" fill="url(#g_purple)"/>
<circle cx="1190.03" cy="771.70" r="13.2" fill="url(#g_purple)"/>
<circle cx="1205.54" cy="785.90" r="13.2" fill="url(#g_purple)"/>
<circle cx="1221.04" cy="800.20" r="13.2" fill="url(#g_purple)"/>
<circle cx="1236.55" cy="812.90" r="13.2" fill="url(#g_purple)"/>
<circle cx="1252.06" cy="824.80" r="13.2" fill="url(#g_purple)"/>
<circle cx="1267.57" cy="835.90" r="13.2" fill="url(#g_purple)"/>
<circle cx="1283.08" cy="847.80" r="13.2" fill="url(#g_purple)"/>
<circle cx="1298.58" cy="858.10" r="13.2" fill="url(#g_purple)"/>
<circle cx="1314.09" cy="867.60" r="13.2" fill="url(#g_purple)"/>
<circle cx="1329.60" cy="876.30" r="13.2" fill="url(#g_purple)"/>
<circle cx="1345.11" cy="885.00" r="13.2" fill="url(#g_purple)"/>
<circle cx="1360.62" cy="893.80" r="13.2" fill="url(#g_purple)"/>
<circle cx="1376.12" cy="901.70" r="13.2" fill="url(#g_purple)"/>
<circle cx="1391.63" cy="908.00" r="13.2" fill="url(#g_purple)"/>
<circle cx="1407.14" cy="915.20" r="13.2" fill="url(#g_purple)"/>
<circle cx="1422.65" cy="920.70" r="13.2" fill="url(#g_purple)"/>
<circle cx="1438.16" cy="927.10" r="13.2" fill="url(#g_purple)"/>
<circle cx="1453.66" cy="932.60" r="13.2" fill="url(#g_purple)"/>
<circle cx="1469.17" cy="936.20" r="13.2" fill="url(#g_purple)"/>
<circle cx="1484.68" cy="940.20" r="13.2" fill="url(#g_purple)"/>
<circle cx="1500.19" cy="944.70" r="13.2" fill="url(#g_purple)"/>
<circle cx="1515.70" cy="949.00" r="13.2" fill="url(#g_purple)"/>
<circle cx="1531.20" cy="953.00" r="13.2" fill="url(#g_purple)"/>
<circle cx="1546.71" cy="956.90" r="13.2" fill="url(#g_purple)"/>
<circle cx="1562.22" cy="960.60" r="13.2" fill="url(#g_purple)"/>
<circle cx="1577.73" cy="964.10" r="13.2" fill="url(#g_purple)"/>
<circle cx="1593.24" cy="968.60" r="13.2" fill="url(#g_purple)"/>
<circle cx="1608.74" cy="972.90" r="13.2" fill="url(#g_purple)"/>
<circle cx="1624.25" cy="978.50" r="13.2" fill="url(#g_purple)"/>
<circle cx="1639.76" cy="983.30" r="13.2" fill="url(#g_purple)"/>
<circle cx="1655.27" cy="988.90" r="13.2" fill="url(#g_purple)"/>
<circle cx="1670.78" cy="993.70" r="13.2" fill="url(#g_purple)"/>
<circle cx="1686.28" cy="998.50" r="13.2" fill="url(#g_purple)"/>
<circle cx="1701.79" cy="1004.00" r="13.2" fill="url(#g_purple)"/>
<circle cx="1717.30" cy="1010.40" r="13.2" fill="url(#g_purple)"/>
</g>
<rect x="166.5" y="26.6" width="1550.80" height="1250.10" fill="none" stroke="#000" stroke-width="6"/>
<line x1="166.50" y1="1276.7" x2="166.50" y2="1300.2" stroke="#000" stroke-width="6"/><line x1="360.35" y1="1276.7" x2="360.35" y2="1288.2" stroke="#000" stroke-width="6"/><line x1="554.20" y1="1276.7" x2="554.20" y2="1300.2" stroke="#000" stroke-width="6"/><line x1="748.05" y1="1276.7" x2="748.05" y2="1288.2" stroke="#000" stroke-width="6"/><line x1="941.90" y1="1276.7" x2="941.90" y2="1300.2" stroke="#000" stroke-width="6"/><line x1="1135.75" y1="1276.7" x2="1135.75" y2="1288.2" stroke="#000" stroke-width="6"/><line x1="1329.60" y1="1276.7" x2="1329.60" y2="1300.2" stroke="#000" stroke-width="6"/><line x1="1523.45" y1="1276.7" x2="1523.45" y2="1288.2" stroke="#000" stroke-width="6"/><line x1="1717.30" y1="1276.7" x2="1717.30" y2="1300.2" stroke="#000" stroke-width="6"/>
<g font-family="'Liberation Sans', Arial, Helvetica, sans-serif" font-weight="bold" font-size="65" fill="#000">
<text x="166.50" y="1368" text-anchor="middle">350</text><text x="554.20" y="1368" text-anchor="middle">400</text><text x="941.90" y="1368" text-anchor="middle">450</text><text x="1329.60" y="1368" text-anchor="middle">500</text><text x="1717.30" y="1368" text-anchor="middle">550</text>
<text x="941.6" y="1478.4" text-anchor="middle">Wavelength (nm)</text>
<text transform="translate(67.7 628.7) rotate(-90)" text-anchor="middle" font-size="64.5">Intensity (a.u.)</text>
<line x1="1226.7" y1="145.80" x2="1288.4" y2="145.80" stroke="#000000" stroke-width="5.5"/><line x1="1317.6" y1="145.80" x2="1379.4" y2="145.80" stroke="#000000" stroke-width="5.5"/><circle cx="1303" cy="145.80" r="13" fill="url(#g_black)"/><text x="1396" y="169.20">3-BVO</text><line x1="1226.7" y1="227.75" x2="1288.4" y2="227.75" stroke="#ff0000" stroke-width="5.5"/><line x1="1317.6" y1="227.75" x2="1379.4" y2="227.75" stroke="#ff0000" stroke-width="5.5"/><circle cx="1303" cy="227.75" r="13" fill="url(#g_red)"/><text x="1396" y="251.15">5-BVO</text><line x1="1226.7" y1="309.70" x2="1288.4" y2="309.70" stroke="#1432ff" stroke-width="5.5"/><line x1="1317.6" y1="309.70" x2="1379.4" y2="309.70" stroke="#1432ff" stroke-width="5.5"/><circle cx="1303" cy="309.70" r="13" fill="url(#g_blue)"/><text x="1396" y="333.10">7-BVO</text><line x1="1226.7" y1="391.65" x2="1288.4" y2="391.65" stroke="#00ff00" stroke-width="5.5"/><line x1="1317.6" y1="391.65" x2="1379.4" y2="391.65" stroke="#00ff00" stroke-width="5.5"/><circle cx="1303" cy="391.65" r="13" fill="url(#g_green)"/><text x="1396" y="415.05">9-BVO</text><line x1="1226.7" y1="473.60" x2="1288.4" y2="473.60" stroke="#8000ff" stroke-width="5.5"/><line x1="1317.6" y1="473.60" x2="1379.4" y2="473.60" stroke="#8000ff" stroke-width="5.5"/><circle cx="1303" cy="473.60" r="13" fill="url(#g_purple)"/><text x="1396" y="497.00">11-BVO</text>
</g>
</g>
</svg>
</body></html>
